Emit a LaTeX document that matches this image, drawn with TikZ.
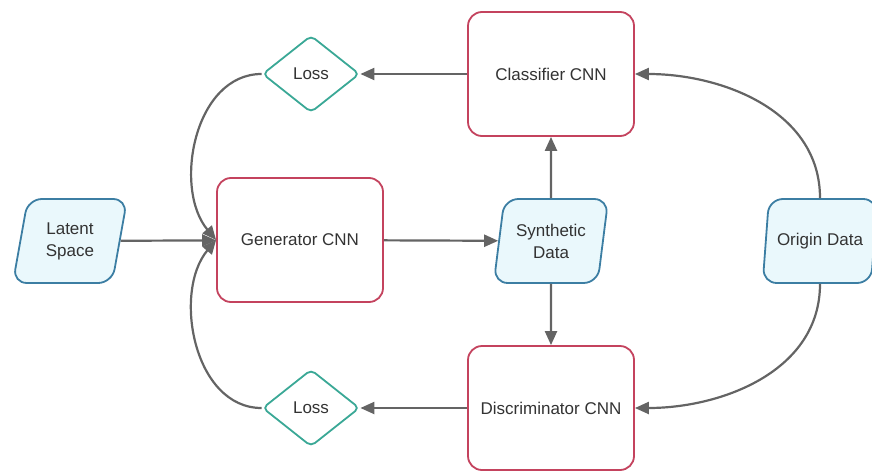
\documentclass[tikz,border=0pt]{standalone}
\usepackage{fontspec}
\setmainfont{Liberation Sans}
\usetikzlibrary{shapes.geometric,arrows.meta}

\definecolor{cnnred}{HTML}{C4435E}
\definecolor{ioblue}{HTML}{3C7EA3}
\definecolor{iofill}{HTML}{EAF8FC}
\definecolor{lossteal}{HTML}{3AA896}
\definecolor{flowgray}{HTML}{646464}
\definecolor{txt}{HTML}{333333}

\tikzset{
    base/.style={font=\fontsize{17}{22}\selectfont, text=txt, align=center, line width=1.8pt},
    cnn/.style={base, draw=cnnred, fill=white, rectangle, rounded corners=14pt,
        minimum width=166pt, minimum height=124pt},
    io/.style={base, draw=ioblue, fill=iofill, trapezium, trapezium left angle=77,
        trapezium right angle=103, trapezium stretches=true, rounded corners=14pt,
        minimum width=115pt, minimum height=84pt, inner sep=0pt},
    loss/.style={base, draw=lossteal, fill=white, diamond, rounded corners=5pt,
        minimum width=97pt, minimum height=77pt, inner sep=0pt},
    flow/.style={draw=flowgray, line width=2.2pt, -{Triangle[length=14pt,width=12pt]}}
}

\begin{document}
\begin{tikzpicture}[x=1pt,y=1pt]
    % cadre
    \useasboundingbox (0,0) rectangle (872,-471);

    % reseaux
    \node[cnn] (gen) at (300,-240) {Generator CNN};
    \node[cnn] (clf) at (551,-74) {Classifier CNN};
    \node[cnn] (dis) at (551,-408) {Discriminator CNN};

    % donnees
    \node[io] (latent) at (70,-241) {Latent\\Space};
    \node[io] (synth) at (551,-241) {Synthetic\\Data};
    \node[io] (origin) at (820,-241) {\makebox[60pt]{Origin Data}};

    % pertes
    \node[loss] (lossA) at (311,-74) {Loss};
    \node[loss] (lossB) at (311,-408) {Loss};

    % fleches
    \draw[flow] (latent) -- (gen);
    \draw[flow] (gen) -- (synth);
    \draw[flow] (synth) -- (clf);
    \draw[flow] (synth) -- (dis);
    \draw[flow] (clf) -- (lossA);
    \draw[flow] (dis) -- (lossB);

    % retours
    \draw[flow] (lossA.west) to[out=180,in=130] (gen.west);
    \draw[flow] (lossB.west) to[out=180,in=-130] (gen.west);
    \draw[flow] (origin.north) to[out=90,in=0] (clf.east);
    \draw[flow] (origin.south) to[out=-90,in=0] (dis.east);
\end{tikzpicture}
\end{document}
